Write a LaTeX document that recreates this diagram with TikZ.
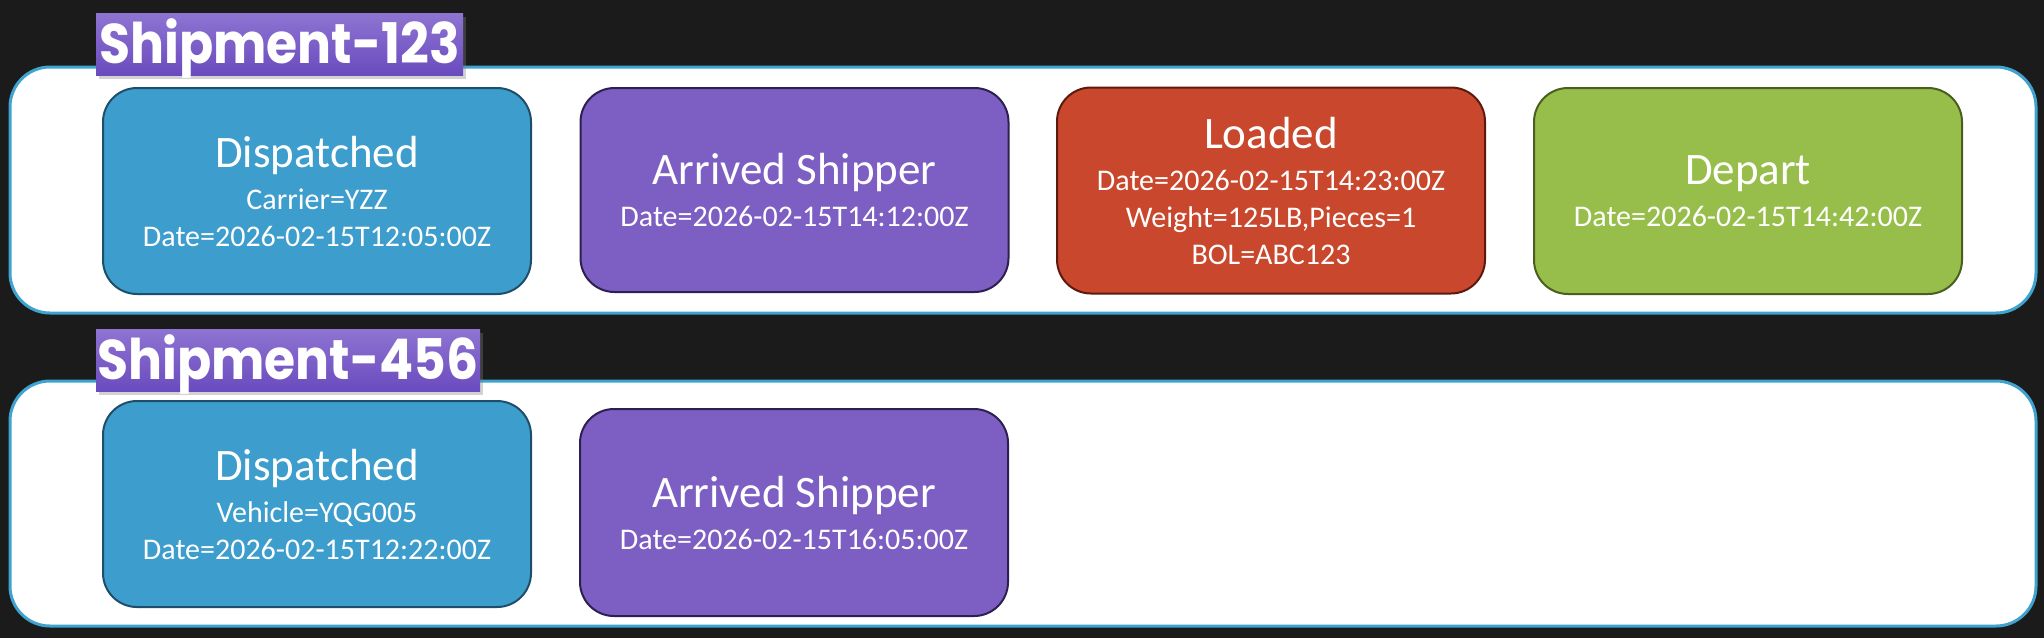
\documentclass[tikz,border=0pt]{standalone}
\usepackage{graphicx}
\usepackage{fontspec}
\setmainfont{Carlito}
\newfontfamily\titlefont{Poppins}
\usetikzlibrary{shadows}
\definecolor{bg}{HTML}{1B1B1B}
\definecolor{contblue}{HTML}{3FA3D0}
\definecolor{dispfill}{HTML}{3D9DCC}
\definecolor{dispdraw}{HTML}{1D4F6B}
\definecolor{arrfill}{HTML}{7D5FC4}
\definecolor{arrdraw}{HTML}{2D2050}
\definecolor{loadfill}{HTML}{C9472C}
\definecolor{loaddraw}{HTML}{5C1A0E}
\definecolor{depfill}{HTML}{97BE4A}
\definecolor{depdraw}{HTML}{4A5E1F}
\definecolor{lblA}{HTML}{8E74D2}
\definecolor{lblB}{HTML}{6A4BBE}
\newcommand{\shiptitle}[1]{\scalebox{0.9}[1]{#1}}
\begin{document}
\begin{tikzpicture}[x=0.5pt,y=-0.5pt,
  container/.style={draw=contblue, line width=1.5pt, fill=white, rounded corners=20pt, inner sep=0pt, minimum width=1013pt},
  evbox/.style={rounded corners=17pt, line width=1pt, minimum width=214pt, minimum height=103pt, inner sep=0pt, text=white, align=center, font=\fontsize{15}{18.5}\selectfont},
  disp/.style={evbox, fill=dispfill, draw=dispdraw},
  arr/.style={evbox, fill=arrfill, draw=arrdraw},
  load/.style={evbox, fill=loadfill, draw=loaddraw},
  dep/.style={evbox, fill=depfill, draw=depdraw},
  tlabel/.style={top color=lblA, bottom color=lblB, draw=none, inner sep=0pt, text height=25pt, text depth=6pt, text=white, font=\titlefont\bfseries\fontsize{28}{32}\selectfont, drop shadow={opacity=0.35, shadow xshift=1.5pt, shadow yshift=-2pt}}
]
\fill[bg] (0,0) rectangle (2044,638);
\useasboundingbox (0,0) rectangle (2044,638);

% Shipment 123
\node[container, minimum height=123pt] (c1) at (1023,190) {};
\node[tlabel, minimum width=183.5pt] (t1) at (279.5,44) {\shiptitle{Shipment-123}};
\node[disp] (d1) at (317,191) {{\fontsize{22.5}{27}\selectfont Dispatched}\\[2.5pt]Carrier=YZZ\\Date=2026-02-15T12:05:00Z};
\node[arr, minimum height=102pt] (a1) at (794.5,190) {{\fontsize{22.5}{27}\selectfont Arrived Shipper}\\[2.5pt]Date=2026-02-15T14:12:00Z};
\node[load] (l1) at (1271,190.5) {{\fontsize{22.5}{27}\selectfont Loaded}\\[2.5pt]Date=2026-02-15T14:23:00Z\\Weight=125LB,Pieces=1\\BOL=ABC123};
\node[dep] (p1) at (1748,191) {{\fontsize{22.5}{27}\selectfont Depart}\\[2.5pt]Date=2026-02-15T14:42:00Z};

% Shipment 456
\node[container, minimum height=122.5pt] (c2) at (1023,503.5) {};
\node[tlabel, minimum width=192pt] (t2) at (288,360) {\shiptitle{Shipment-456}};
\node[disp] (d2) at (317,504) {{\fontsize{22.5}{27}\selectfont Dispatched}\\[2.5pt]Vehicle=YQG005\\Date=2026-02-15T12:22:00Z};
\node[arr, minimum height=103.5pt] (a2) at (794,512.5) {{\fontsize{22.5}{27}\selectfont Arrived Shipper}\\[2.5pt]Date=2026-02-15T16:05:00Z};
\end{tikzpicture}
\end{document}
